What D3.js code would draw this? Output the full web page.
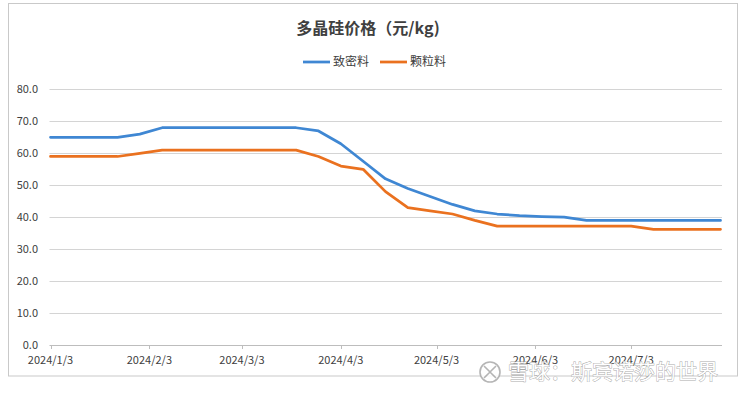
<!DOCTYPE html>
<html>
<head>
<meta charset="utf-8">
<script src="https://cdn.jsdelivr.net/npm/d3@7"></script>
<style>
  html, body { margin: 0; padding: 0; background: #fff; }
  svg { display: block; font-family: "Noto Sans CJK SC", "Noto Sans", sans-serif; }
</style>
</head>
<body>
<svg id="chart" width="745" height="397"></svg>
<script>
// weekly prices, 2024/1/3 .. 2024/7/31
const startDate = '2024-01-03'
const weeks = 31
const denseMaterial = [65, 65, 65, 65, 66, 68, 68, 68, 68, 68, 68, 68, 67, 63, 57.5, 52,
  49, 46.5, 44, 42, 41, 40.5, 40.2, 40, 39, 39, 39, 39, 39, 39, 39]
const granular = [59, 59, 59, 59, 60, 61, 61, 61, 61, 61, 61, 61, 59, 56, 55, 48,
  43, 42, 41, 39, 37.2, 37.2, 37.2, 37.2, 37.2, 37.2, 37.2, 36.2, 36.2, 36.2, 36.2]
const seriesNames = ['致密料', '颗粒料']
const tickDates = ['2024/1/3', '2024/2/3', '2024/3/3', '2024/4/3', '2024/5/3', '2024/6/3', '2024/7/3']
const yTicks = [0, 10, 20, 30, 40, 50, 60, 70, 80]
const title = '多晶硅价格（元/kg)'
const watermark = '雪球：斯宾诺莎的世界'

const parse = d3.timeParse('%Y/%m/%d')
const t0 = d3.timeParse('%Y-%m-%d')(startDate)
const dates = d3.range(weeks).map(i => d3.timeDay.offset(t0, i * 7))

const colors = ['#3f87d3', '#ea711f']
const svg = d3.select('#chart')

// chart frame
svg.append('rect')
  .attr('x', 8.5).attr('y', 3.5)
  .attr('width', 729).attr('height', 372.5)
  .attr('fill', '#fff')
  .attr('stroke', '#c9c9c9')

const x = d3.scaleTime()
  .domain([t0, dates[dates.length - 1]])
  .range([50.5, 720.5])
const y = d3.scaleLinear().domain([0, 80]).range([345, 89.4])

// gridlines
svg.append('g')
  .selectAll('line')
  .data(yTicks)
  .join('line')
  .attr('x1', 49.5).attr('x2', 722)
  .attr('y1', d => Math.round(y(d)) + 0.5)
  .attr('y2', d => Math.round(y(d)) + 0.5)
  .attr('stroke', d => d === 0 ? '#bdbdbd' : '#d4d4d4')
  .attr('stroke-width', 1)

// y labels
svg.append('g')
  .selectAll('text')
  .data(yTicks)
  .join('text')
  .attr('x', 38)
  .attr('y', d => y(d))
  .attr('dy', '0.35em')
  .attr('text-anchor', 'end')
  .attr('font-size', 11)
  .attr('fill', '#404040')
  .text(d => d3.format('.1f')(d))

// x axis ticks + labels
const xg = svg.append('g')
xg.selectAll('line')
  .data(tickDates)
  .join('line')
  .attr('x1', d => Math.round(x(parse(d))) + 0.5)
  .attr('x2', d => Math.round(x(parse(d))) + 0.5)
  .attr('y1', 345).attr('y2', 349)
  .attr('stroke', '#bdbdbd')
xg.selectAll('text')
  .data(tickDates)
  .join('text')
  .attr('x', d => x(parse(d)))
  .attr('y', 360)
  .attr('dy', '0.35em')
  .attr('text-anchor', 'middle')
  .attr('font-size', 11)
  .attr('fill', '#404040')
  .text(d => d)

// lines
const line = d3.line()
  .x((d, i) => x(dates[i]))
  .y(d => y(d))
svg.selectAll('path.series')
  .data([denseMaterial, granular])
  .join('path')
  .attr('class', 'series')
  .attr('d', line)
  .attr('fill', 'none')
  .attr('stroke', (d, i) => colors[i])
  .attr('stroke-width', 2.75)
  .attr('stroke-linejoin', 'round')
  .attr('stroke-linecap', 'round')

// title
svg.append('text')
  .attr('x', 368).attr('y', 28)
  .attr('dy', '0.35em')
  .attr('text-anchor', 'middle')
  .attr('font-size', 16)
  .attr('font-weight', 'bold')
  .attr('fill', '#404040')
  .text(title)

// legend
const legendX = [303, 380]
const lg = svg.append('g')
  .selectAll('g')
  .data(seriesNames)
  .join('g')
  .attr('transform', (d, i) => `translate(${legendX[i]},62)`)
lg.append('line')
  .attr('x1', 0).attr('x2', 27)
  .attr('stroke', (d, i) => colors[i])
  .attr('stroke-width', 2.75)
lg.append('text')
  .attr('x', 30)
  .attr('dy', '0.35em')
  .attr('font-size', 12)
  .attr('fill', '#404040')
  .text(d => d)

// watermark
const wm = svg.append('g').attr('opacity', 0.85)
wm.append('circle')
  .attr('cx', 490).attr('cy', 372).attr('r', 10)
  .attr('fill', '#fff')
  .attr('stroke', '#a9a9a9').attr('stroke-width', 1.6)
wm.append('path')
  .attr('d', 'M484,366 L490,372 L484,378 M496,366 L490,372 L496,378')
  .attr('fill', 'none')
  .attr('stroke', '#a9a9a9').attr('stroke-width', 1.6)
wm.append('text')
  .attr('x', 508).attr('y', 372)
  .attr('dy', '0.35em')
  .attr('font-size', 21)
  .attr('fill', '#fff')
  .attr('stroke', '#9a9a9a')
  .attr('stroke-width', 0.9)
  .attr('paint-order', 'stroke')
  .text(watermark)
</script>
</body>
</html>
